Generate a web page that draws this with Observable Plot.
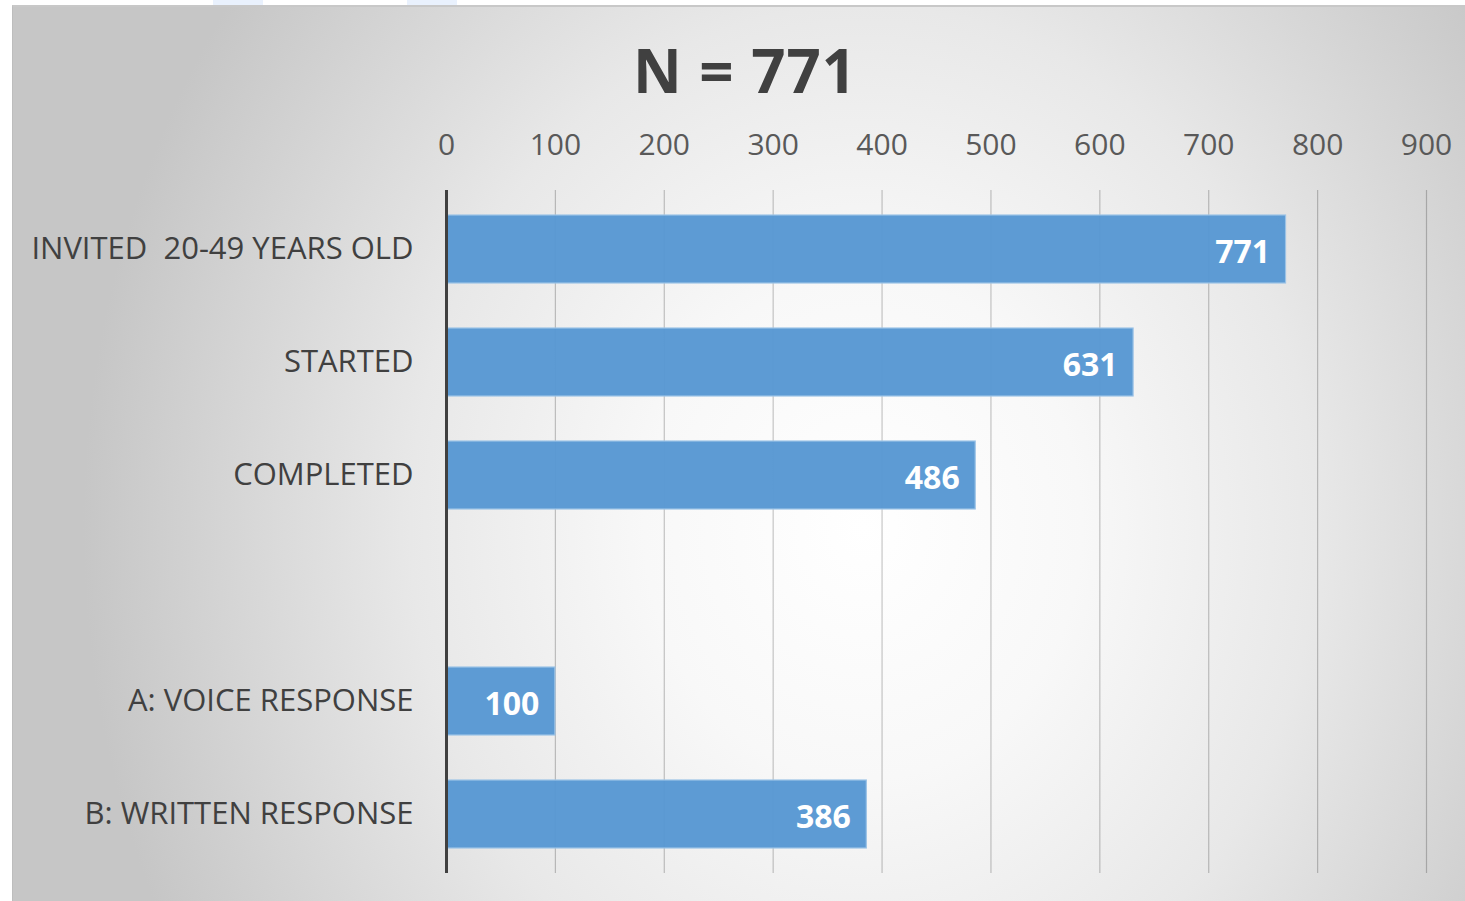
<!DOCTYPE html>
<html>
<head>
<meta charset="utf-8">
<script src="https://cdn.jsdelivr.net/npm/d3@7"></script>
<script src="https://cdn.jsdelivr.net/npm/@observablehq/plot@0.6"></script>
<style>
  html, body { margin: 0; padding: 0; background: #ffffff; }
  #page { position: relative; width: 1465px; height: 901px; overflow: hidden; }
  #panel {
    position: absolute; left: 12px; top: 5px; width: 1453px; height: 896px;
    border-top: 2px solid #c8c8c8; border-left: 1px solid #bdbdbd; box-sizing: border-box;
    background: radial-gradient(ellipse 780px 900px at 850px 520px, #ffffff 0%, #f8f8f8 28%, #e8e8e8 58%, #c6c6c6 100%);
  }
  .tab { position: absolute; top: 0; width: 50px; height: 5px; background: #e9f1fd; }
  #title {
    position: absolute; left: 0; width: 1490px; top: 30px; text-align: center;
    font-family: "Open Sans", sans-serif; font-weight: 700; font-size: 60px;
    color: #404040; letter-spacing: 1px; line-height: 80px;
  }
  #chart { position: absolute; left: 0; top: 0; }
</style>
</head>
<body>
<div id="page">
  <div class="tab" style="left:213px"></div>
  <div class="tab" style="left:407px"></div>
  <div id="panel"></div>
  <div id="title">N = 771</div>
  <div id="chart"></div>
</div>
<script>
// Response funnel: categories, counts and axis ticks
const categories = [
  "INVITED  20-49 YEARS OLD",
  "STARTED",
  "COMPLETED",
  "",
  "A: VOICE RESPONSE",
  "B: WRITTEN RESPONSE"
];
const barCategories = ["INVITED  20-49 YEARS OLD", "STARTED", "COMPLETED", "A: VOICE RESPONSE", "B: WRITTEN RESPONSE"];
const counts = [771, 631, 486, 100, 386];
const xTicks = [0, 100, 200, 300, 400, 500, 600, 700, 800, 900];

const rows = barCategories.map((c, i) => ({category: c, count: counts[i]}));

const font = "'Segoe UI', 'Open Sans', sans-serif";

const chart = Plot.plot({
  width: 1465,
  height: 901,
  marginLeft: 446,
  marginRight: 39,
  marginTop: 190,
  marginBottom: 28,
  style: {background: "transparent", fontFamily: font, overflow: "visible"},
  x: {domain: [0, 900], axis: null, label: null},
  y: {domain: categories, paddingInner: 0.4, paddingOuter: 0.2, axis: null, label: null},
  marks: [
    Plot.ruleX(xTicks.slice(1), {stroke: "#000", strokeOpacity: 0.22, strokeWidth: 1.2}),
    Plot.barX(rows, {
      x: "count", y: "category",
      fill: "#5898d3", fillOpacity: 0.97,
      stroke: "#9cc3e6", strokeWidth: 1.2
    }),
    Plot.ruleX([0], {stroke: "#404040", strokeWidth: 3}),
    Plot.axisX(xTicks, {
      anchor: "top", tickSize: 0, tickPadding: 36, label: null,
      fontSize: 30, fill: "#595959", fontFamily: font
    }),
    Plot.axisY(barCategories, {
      anchor: "left", tickSize: 0, tickPadding: 33, label: null,
      fontSize: 31, fill: "#404040", fontFamily: font
    }),
    Plot.text(rows, {
      x: "count", y: "category", text: d => String(d.count),
      textAnchor: "end", dx: -16, dy: 3,
      fill: "#ffffff", fontWeight: "bold", fontSize: 32, fontFamily: font
    })
  ]
});

document.getElementById("chart").appendChild(chart);
</script>
</body>
</html>
